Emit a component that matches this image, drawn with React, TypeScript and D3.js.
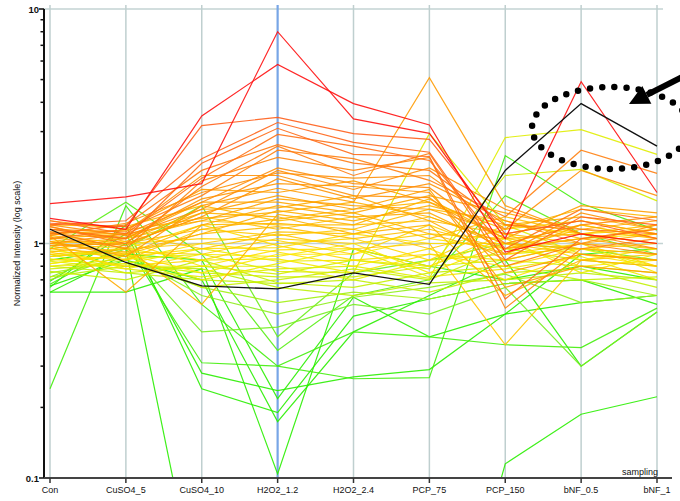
import * as d3 from 'd3';

const samples = ['Con', 'CuSO4_5', 'CuSO4_10', 'H2O2_1.2', 'H2O2_2.4', 'PCP_75', 'PCP_150', 'bNF_0.5', 'bNF_1'];
const colourSample = 'H2O2_1.2';
const yLabel = 'Normalized Intensity (log scale)';
const xLabel = 'sampling';
const majorTicks = [0.1, 1, 10];

// one row per compound, values in the order of `samples`
const redProfiles = [
  [1.48, 1.58, 1.8, 8.0, 3.4, 2.95, 1.05, 4.9, 1.65],
  [1.28, 1.15, 3.5, 5.8, 3.95, 3.2, 0.92, 1.1, 1.0],
];

const orangeProfiles = [
  [1.22, 1.18, 3.18, 3.45, 2.94, 2.78, 1.1, 1.25, 1.05],
  [1.2, 1.25, 2.3, 3.28, 2.7, 2.45, 0.85, 1.3, 1.2],
  [1.15, 1.05, 2.2, 3.1, 2.4, 2.35, 0.58, 1.05, 1.15],
  [1.25, 1.1, 1.9, 2.92, 2.6, 2.26, 0.95, 1.4, 1.25],
  [1.1, 1.2, 2.05, 2.64, 2.2, 2.05, 1.2, 1.15, 1.1],
  [1.18, 1.0, 1.75, 2.6, 1.95, 2.42, 0.8, 1.0, 0.9],
  [1.05, 1.15, 1.6, 2.5, 2.3, 1.86, 1.3, 2.5, 1.99],
  [1.12, 0.95, 1.85, 2.33, 2.05, 2.33, 0.53, 0.95, 1.05],
  [1.0, 1.1, 1.5, 2.1, 1.8, 1.73, 1.0, 1.2, 1.3],
  [1.2, 1.08, 1.4, 2.05, 1.7, 2.1, 1.4, 1.1, 0.95],
  [1.08, 1.22, 1.65, 2.0, 1.9, 1.95, 1.15, 2.05, 1.6],
  [1.15, 1.12, 1.95, 1.95, 1.6, 1.57, 0.9, 1.35, 1.15],
  [0.98, 1.0, 1.3, 1.89, 1.55, 1.8, 1.25, 1.0, 1.2],
  [1.1, 1.05, 1.55, 1.8, 1.75, 1.65, 0.75, 0.9, 0.85],
  [1.02, 0.88, 1.45, 1.72, 1.5, 5.1, 1.45, 1.1, 1.0],
  [1.25, 1.15, 1.7, 1.65, 1.85, 1.5, 1.05, 1.45, 1.35],
  [1.06, 0.98, 1.35, 1.6, 1.4, 1.7, 0.65, 0.8, 0.75],
  [1.12, 1.1, 1.25, 1.55, 1.45, 1.4, 1.1, 1.25, 1.1],
  [0.95, 1.05, 1.5, 1.5, 1.35, 1.6, 1.35, 1.15, 1.25],
  [1.08, 0.62, 1.2, 1.45, 1.3, 1.35, 0.95, 1.05, 0.95],
  [1.18, 1.02, 1.4, 1.42, 1.6, 1.25, 0.85, 1.0, 1.1],
  [1.0, 0.92, 1.1, 1.38, 1.25, 1.45, 1.2, 1.3, 1.15],
  [1.1, 1.14, 1.28, 1.36, 1.5, 1.3, 1.0, 0.95, 0.9],
  [1.04, 0.96, 0.55, 1.33, 1.2, 1.55, 1.05, 1.1, 1.0],
  [1.15, 1.06, 1.35, 1.3, 1.1, 1.2, 0.6, 0.85, 0.8],
  [0.92, 1.0, 1.15, 1.27, 1.4, 1.5, 1.15, 1.4, 1.3],
  [1.2, 1.18, 1.45, 1.25, 1.35, 1.1, 0.9, 1.2, 1.05],
  [1.02, 0.9, 1.2, 1.22, 1.15, 1.4, 1.25, 1.05, 1.15],
];

const yellowProfiles = [
  [1.0, 1.05, 1.25, 1.2, 1.2, 1.25, 1.1, 1.0, 0.95],
  [0.95, 0.9, 1.1, 1.18, 1.05, 1.15, 0.95, 1.15, 1.05],
  [1.08, 1.0, 1.3, 1.15, 1.3, 1.05, 1.3, 1.1, 1.2],
  [0.9, 0.95, 1.0, 1.12, 1.1, 1.3, 1.0, 0.9, 0.85],
  [1.05, 1.1, 0.95, 1.1, 0.95, 1.0, 0.37, 0.85, 0.9],
  [0.98, 0.85, 1.15, 1.08, 1.15, 0.95, 1.15, 1.25, 1.1],
  [0.88, 0.92, 0.9, 1.05, 1.0, 1.1, 1.05, 0.95, 1.0],
  [1.02, 1.0, 1.05, 1.03, 0.9, 1.2, 0.9, 1.0, 0.8],
  [0.92, 0.8, 0.85, 1.0, 1.05, 0.85, 1.2, 1.1, 1.15],
  [1.0, 0.95, 1.2, 0.98, 0.85, 0.9, 0.8, 0.95, 0.9],
  [0.85, 0.88, 0.95, 0.96, 1.1, 1.0, 1.0, 1.2, 1.05],
  [0.95, 1.02, 0.8, 0.94, 0.95, 0.8, 1.1, 0.85, 0.95],
  [0.9, 0.85, 1.0, 0.92, 0.8, 0.95, 0.7, 0.9, 0.8],
  [0.82, 0.9, 0.75, 0.9, 0.9, 1.05, 0.95, 1.05, 1.1],
  [0.96, 0.78, 0.9, 0.88, 1.0, 0.75, 1.0, 0.8, 0.85],
  [0.88, 0.95, 0.85, 0.86, 0.75, 0.9, 0.85, 1.0, 0.75],
  [0.8, 0.82, 0.95, 0.84, 0.85, 0.8, 1.05, 0.75, 0.9],
  [0.93, 0.88, 0.7, 0.82, 0.95, 0.72, 0.78, 0.88, 0.7],
  [0.86, 0.8, 0.8, 0.8, 0.7, 0.85, 0.9, 0.95, 0.8],
];

const yellowGreenProfiles = [
  [0.84, 0.78, 0.72, 0.78, 0.8, 0.71, 2.83, 3.06, 2.4],
  [0.8, 0.86, 0.9, 0.76, 0.75, 2.94, 1.2, 0.9, 0.85],
  [0.9, 0.75, 0.8, 0.74, 0.85, 0.78, 1.95, 2.07, 1.52],
  [0.78, 0.82, 0.75, 0.72, 0.72, 0.8, 0.85, 0.8, 0.75],
  [0.82, 0.9, 0.65, 0.7, 0.78, 0.7, 0.95, 0.85, 0.8],
  [0.76, 0.7, 0.85, 0.68, 0.65, 0.75, 0.8, 0.7, 0.72],
  [0.8, 0.75, 0.7, 0.675, 0.7, 0.62, 0.75, 0.78, 0.65],
  [0.72, 0.8, 0.78, 0.65, 0.6, 0.68, 0.7, 0.75, 0.7],
  [0.75, 0.85, 0.65, 0.56, 0.62, 0.58, 0.675, 0.7, 0.6],
  [0.7, 0.9, 0.6, 0.5, 0.59, 0.65, 0.74, 0.56, 0.6],
  [0.72, 0.95, 0.42, 0.44, 0.55, 0.5, 0.65, 0.3, 0.51],
];

const greenProfiles = [
  [0.24, 1.45, 0.55, 0.3, 0.42, 0.4, 0.37, 0.36, 0.53],
  [0.85, 0.95, 0.025, 0.02, 0.02, 0.008, 0.115, 0.187, 0.222],
  [0.62, 0.62, 0.78, 0.104, 0.95, 0.8, 0.7, 0.8, 0.7],
  [0.67, 1.0, 0.31, 0.3, 0.265, 0.268, 2.37, 1.48, 1.14],
  [0.69, 1.1, 0.28, 0.236, 0.27, 0.29, 0.5, 0.56, 0.6],
  [0.65, 1.2, 0.24, 0.19, 0.49, 0.58, 0.675, 0.7, 0.55],
  [0.62, 0.9, 0.85, 0.218, 0.59, 0.4, 0.5, 0.9, 0.95],
  [0.66, 0.85, 0.7, 0.174, 0.42, 0.6, 0.85, 0.3, 0.51],
  [0.95, 1.5, 0.9, 0.35, 0.6, 0.7, 1.6, 1.1, 0.9],
  [0.88, 0.95, 1.45, 0.4, 0.75, 0.85, 1.0, 0.95, 0.85],
];

const highlighted = [1.15, 0.83, 0.66, 0.64, 0.75, 0.67, 2.05, 3.95, 2.6];

export default function App() {
  const width = 680;
  const height = 501;
  const left = 44;
  const right = 672;
  const top = 9;
  const bottom = 478;

  const x = d3.scalePoint<string>().domain(samples).range([50, 657]);
  const y = d3.scaleLog().domain([0.1, 10]).range([bottom, top]);

  const colour = d3
    .scaleLog<string>()
    .domain([0.25, 0.45, 0.7, 0.9, 1.15, 1.6, 2.5, 3.6, 5])
    .range(['#2aee00', '#7aee22', '#c8f000', '#ffe800', '#ffc000', '#ffa000', '#ff8010', '#ff5a1a', '#ff1010'])
    .clamp(true);

  const ci = samples.indexOf(colourSample);
  const all = [...redProfiles, ...orangeProfiles, ...yellowProfiles, ...yellowGreenProfiles, ...greenProfiles]
    .slice()
    .sort((a, b) => a[ci] - b[ci]);

  const line = d3
    .line<number>()
    .x((_, i) => x(samples[i]) as number)
    .y((d) => y(d));

  const minorTicks: number[] = [];
  [0.1, 1].forEach((dec) => {
    for (let k = 2; k <= 9; k++) minorTicks.push(dec * k);
  });

  // annotation arrow
  const tip: [number, number] = [629, 104];
  const tail: [number, number] = [692, 72];
  const dx = tail[0] - tip[0];
  const dy = tail[1] - tip[1];
  const len = Math.hypot(dx, dy);
  const ux = dx / len;
  const uy = dy / len;
  const headL = 20;
  const headW = 10;
  const bx = tip[0] + ux * headL;
  const by = tip[1] + uy * headL;
  const head = `M${tip[0]},${tip[1]}L${bx - uy * headW},${by + ux * headW}L${bx + uy * headW},${by - ux * headW}Z`;

  const font = 'Liberation Sans, Arial, Helvetica, sans-serif';

  return (
    <svg
      width={width}
      height={height}
      style={{ position: 'absolute', left: 0, top: 0, background: '#fff' }}
      fontFamily={font}
    >
      <defs>
        <clipPath id="plot">
          <rect x={left} y={top - 4} width={right - left} height={bottom - top + 4} />
        </clipPath>
      </defs>

      {/* grid */}
      {[1, 10].map((v) => (
        <line key={v} x1={left} x2={663} y1={y(v)} y2={y(v)} stroke="#c3d3d3" strokeWidth={1.4} />
      ))}
      {samples.map((s) => (
        <line
          key={s}
          x1={x(s)}
          x2={x(s)}
          y1={5}
          y2={bottom}
          stroke={s === colourSample ? '#78a6e6' : '#bfcfcf'}
          strokeWidth={s === colourSample ? 2.2 : 1.5}
        />
      ))}

      {/* profiles */}
      <g clipPath="url(#plot)" fill="none">
        {all.map((p, i) => (
          <path key={i} d={line(p) || ''} stroke={colour(p[ci])} strokeWidth={1.2} strokeOpacity={0.9} />
        ))}
        <path d={line(highlighted) || ''} stroke="#111" strokeWidth={1.3} />
      </g>

      {/* y axis */}
      <line x1={left} x2={left} y1={top} y2={bottom} stroke="#111" strokeWidth={2} />
      {minorTicks.map((v) => (
        <line key={v} x1={left - 3.5} x2={left} y1={y(v)} y2={y(v)} stroke="#111" strokeWidth={1.5} />
      ))}
      {majorTicks.map((v) => (
        <g key={v}>
          <line x1={left - 5} x2={left} y1={y(v)} y2={y(v)} stroke="#111" strokeWidth={1.5} />
          <text x={left - 5} y={y(v) + 3.5} textAnchor="end" fontSize={9.5} fontWeight="bold" fill="#111">
            {v}
          </text>
        </g>
      ))}
      <text
        transform={`translate(20,${y(1)}) rotate(-90)`}
        textAnchor="middle"
        fontSize={9}
        fill="#111"
      >
        {yLabel}
      </text>

      {/* x axis */}
      <line x1={left} x2={right} y1={bottom} y2={bottom} stroke="#444" strokeWidth={2.2} />
      {samples.map((s) => (
        <g key={s}>
          <line x1={x(s)} x2={x(s)} y1={bottom} y2={bottom + 5} stroke="#333" strokeWidth={1.5} />
          <text x={x(s)} y={bottom + 15} textAnchor="middle" fontSize={9} fill="#111">
            {s}
          </text>
        </g>
      ))}
      <text x={658} y={bottom - 3} textAnchor="end" fontSize={9} fill="#111">
        {xLabel}
      </text>

      {/* annotation */}
      <ellipse
        cx={611}
        cy={128}
        rx={79}
        ry={41}
        fill="none"
        stroke="#000"
        strokeWidth={6.5}
        strokeLinecap="round"
        strokeDasharray="0 12.2"
      />
      <line x1={bx} y1={by} x2={tail[0]} y2={tail[1]} stroke="#000" strokeWidth={6} />
      <path d={head} fill="#000" />
    </svg>
  );
}
